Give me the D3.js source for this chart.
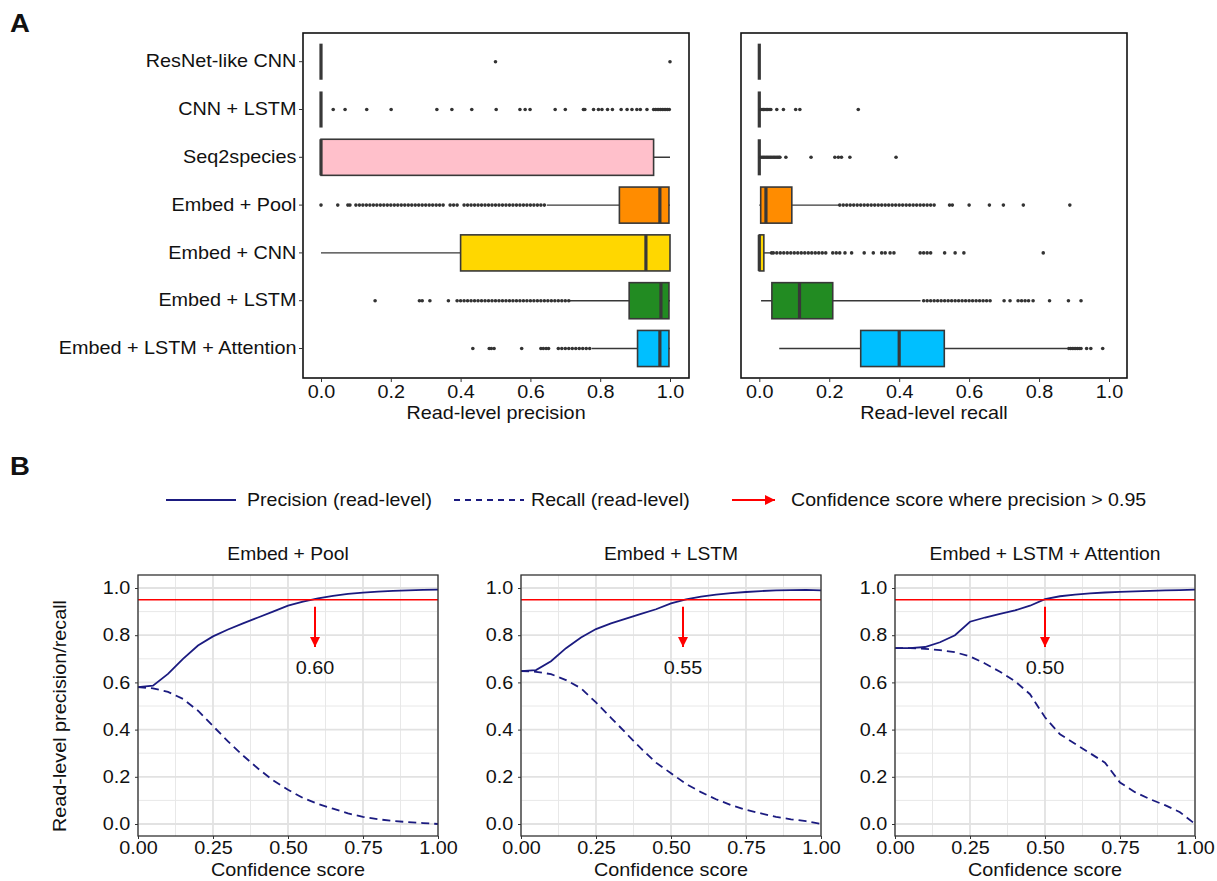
<!DOCTYPE html>
<html><head><meta charset="utf-8">
<script src="https://cdn.jsdelivr.net/npm/d3@7"></script>
<style>
body{margin:0;background:#fff}
text{font-family:"Liberation Sans",Arial,sans-serif;fill:#111}
</style>
</head><body><svg id="c" width="1217" height="881"></svg>
<script>
// ---------------- DATA ----------------
const categories = ["ResNet-like CNN","CNN + LSTM","Seq2species","Embed + Pool","Embed + CNN","Embed + LSTM","Embed + LSTM + Attention"];
const boxColors = ["#FFC0CB","#FFC0CB","#FFC0CB","#FF8C00","#FFD700","#228B22","#00BFFF"];
// [lower whisker, Q1, median, Q3, upper whisker]
const precisionBoxes = [
  [0,0,0,0,0],
  [0,0,0,0,0],
  [0,0,0,0.953,1.0],
  [0.647,0.855,0.971,0.997,1.0],
  [0.0,0.40,0.931,1.0,1.0],
  [0.713,0.883,0.974,0.997,1.0],
  [0.776,0.907,0.971,0.997,1.0]
];
const precisionOutliers = [
  [0.5,1.0],
  [0.035,0.069,0.131,0.201,0.332,0.375,0.432,0.502,0.57,0.585,0.599,0.671,0.70,0.752,0.756,0.781,0.795,0.805,0.821,0.835,0.86,0.877,0.891,0.905,0.915,0.934,0.953,0.958,0.963,0.968,0.973,0.978,0.983,0.988,0.993,0.998],
  [],
  [0.0,0.048,0.077,0.083,0.10,0.11,0.12,0.13,0.14,0.15,0.16,0.17,0.18,0.19,0.20,0.21,0.22,0.23,0.24,0.25,0.26,0.27,0.28,0.29,0.30,0.31,0.32,0.33,0.34,0.35,0.37,0.38,0.39,0.41,0.42,0.43,0.44,0.45,0.46,0.47,0.48,0.49,0.50,0.51,0.52,0.53,0.54,0.55,0.56,0.57,0.58,0.59,0.60,0.61,0.62,0.63,0.64],
  [],
  [0.155,0.282,0.29,0.312,0.365,0.39,0.40,0.41,0.42,0.43,0.44,0.45,0.46,0.47,0.48,0.49,0.50,0.51,0.52,0.53,0.54,0.55,0.56,0.57,0.58,0.59,0.60,0.61,0.62,0.63,0.64,0.65,0.66,0.67,0.68,0.69,0.70,0.71],
  [0.435,0.482,0.488,0.496,0.575,0.63,0.637,0.645,0.652,0.68,0.69,0.70,0.71,0.72,0.73,0.74,0.75,0.76,0.77]
];
const recallBoxes = [
  [0,0,0,0,0],
  [0,0,0,0,0],
  [0,0,0,0,0],
  [0.0,0.004,0.019,0.093,0.23],
  [0.0,0.0,0.0,0.013,0.031],
  [0.005,0.036,0.115,0.21,0.461],
  [0.057,0.29,0.40,0.529,0.881]
];
const recallOutliers = [
  [],
  [0.004,0.008,0.012,0.016,0.02,0.024,0.028,0.033,0.05,0.069,0.104,0.116,0.283],
  [0.004,0.008,0.012,0.016,0.02,0.024,0.028,0.032,0.036,0.04,0.044,0.048,0.052,0.056,0.059,0.076,0.148,0.216,0.226,0.235,0.259,0.391],
  [0.23,0.24,0.25,0.26,0.27,0.28,0.29,0.30,0.31,0.32,0.33,0.34,0.35,0.36,0.37,0.38,0.39,0.40,0.41,0.42,0.43,0.44,0.45,0.46,0.47,0.48,0.49,0.50,0.544,0.552,0.60,0.658,0.698,0.755,0.888],
  [0.035,0.04,0.05,0.06,0.07,0.08,0.09,0.10,0.11,0.12,0.13,0.14,0.15,0.16,0.17,0.18,0.19,0.21,0.22,0.23,0.245,0.264,0.30,0.326,0.35,0.36,0.374,0.385,0.46,0.47,0.48,0.49,0.53,0.56,0.585,0.812],
  [0.47,0.48,0.49,0.50,0.51,0.52,0.53,0.54,0.55,0.56,0.57,0.58,0.59,0.60,0.61,0.62,0.63,0.64,0.65,0.66,0.70,0.717,0.74,0.75,0.76,0.77,0.783,0.83,0.884,0.92],
  [0.885,0.89,0.895,0.90,0.905,0.91,0.915,0.92,0.936,0.948,0.982]
];
const boxTicks = [0.0,0.2,0.4,0.6,0.8,1.0];

const confidence = [0,0.05,0.10,0.15,0.20,0.25,0.30,0.35,0.40,0.45,0.50,0.55,0.60,0.65,0.70,0.75,0.80,0.85,0.90,0.95,1.0];
const poolPrecision = [0.58,0.586,0.636,0.70,0.756,0.795,0.824,0.85,0.875,0.90,0.925,0.942,0.956,0.967,0.975,0.98,0.985,0.988,0.99,0.992,0.993];
const poolRecall    = [0.58,0.575,0.56,0.53,0.48,0.415,0.35,0.29,0.235,0.185,0.145,0.11,0.085,0.065,0.045,0.03,0.02,0.013,0.008,0.004,0.0];
const lstmPrecision = [0.648,0.652,0.69,0.745,0.79,0.826,0.85,0.87,0.89,0.91,0.935,0.952,0.963,0.972,0.978,0.983,0.987,0.99,0.991,0.992,0.99];
const lstmRecall    = [0.648,0.645,0.635,0.61,0.575,0.515,0.45,0.385,0.32,0.26,0.215,0.17,0.135,0.105,0.08,0.06,0.045,0.03,0.02,0.012,0.0];
const attnPrecision = [0.745,0.745,0.75,0.77,0.80,0.857,0.875,0.89,0.905,0.925,0.953,0.965,0.972,0.977,0.981,0.984,0.986,0.988,0.99,0.991,0.993];
const attnRecall    = [0.745,0.745,0.742,0.737,0.728,0.71,0.68,0.645,0.605,0.55,0.452,0.38,0.34,0.30,0.26,0.176,0.135,0.105,0.08,0.05,0.0];
const panelTitles = ["Embed + Pool","Embed + LSTM","Embed + LSTM + Attention"];
const thresholds = [0.59,0.54,0.50];
const thresholdLabels = ["0.60","0.55","0.50"];
const precisionTarget = 0.95;
const curveXTicks = [0,0.25,0.5,0.75,1.0];
const curveYTicks = [0,0.2,0.4,0.6,0.8,1.0];

// ---------------- DRAW ----------------
const svg = d3.select("#c");
svg.append("rect").attr("width",1217).attr("height",881).attr("fill","#fff");
const SX = 1.1;
function txt(g,x,y,s,size,anchor,extra){
  const t = g.append("text").attr("transform",`translate(${x},${y}) scale(${SX},1)`)
    .attr("font-size",size).attr("text-anchor",anchor||"start").text(s);
  if(extra) extra(t);
  return t;
}
const defs = svg.append("defs");
defs.append("marker").attr("id","ah").attr("viewBox","0 0 10 10").attr("refX",10).attr("refY",5)
  .attr("markerWidth",10).attr("markerHeight",10).attr("markerUnits","userSpaceOnUse").attr("orient","auto")
  .append("path").attr("d","M0,0 L10,5 L0,10 z").attr("fill","#ff0000");

txt(svg,10,32,"A",25,"start",t=>t.attr("font-weight","bold"));
txt(svg,10,475,"B",25,"start",t=>t.attr("font-weight","bold"));

function boxPanel(x0,x1,zeroPx,onePx,boxes,outliers,axisTitle,showLabels){
  const y0=33,y1=378;
  const unit=onePx-zeroPx;
  const x=d3.scaleLinear().domain([(x0-zeroPx)/unit,(x1-zeroPx)/unit]).range([x0,x1]);
  const y=d3.scaleBand().domain(categories).range([37.8,372.4]).paddingInner(0.245).paddingOuter(0.1225);
  const g=svg.append("g");
  const stroke="#383838";
  categories.forEach((c,i)=>{
    const b=boxes[i], cy=y(c)+y.bandwidth()/2, top=y(c), h=y.bandwidth();
    g.append("line").attr("x1",x(b[0])).attr("x2",x(b[4])).attr("y1",cy).attr("y2",cy).attr("stroke",stroke).attr("stroke-width",1.4);
    g.append("rect").attr("x",x(b[1])).attr("width",x(b[3])-x(b[1])).attr("y",top).attr("height",h)
      .attr("fill",boxColors[i]).attr("stroke",stroke).attr("stroke-width",1.6);
    g.append("line").attr("x1",x(b[2])).attr("x2",x(b[2])).attr("y1",top).attr("y2",top+h).attr("stroke",stroke).attr("stroke-width",3.2);
    g.selectAll(null).data(outliers[i]).enter().append("circle")
      .attr("cx",d=>x(d)).attr("cy",cy).attr("r",1.8).attr("fill","#333");
  });
  g.append("rect").attr("x",x0).attr("y",y0).attr("width",x1-x0).attr("height",y1-y0).attr("fill","none").attr("stroke","#111").attr("stroke-width",1.6);
  const ax=g.append("g").attr("transform",`translate(0,${y1})`).call(d3.axisBottom(x).tickValues(boxTicks).tickFormat(d3.format(".1f")).tickSize(4).tickSizeOuter(0));
  ax.select(".domain").remove();
  ax.selectAll("line").attr("stroke","#333");
  ax.selectAll("text").attr("font-size",18).attr("fill","#111").attr("y",7).attr("transform",`scale(${SX},1)`);
  if(showLabels){
    const ay=g.append("g").attr("transform",`translate(${x0},0)`).call(d3.axisLeft(y).tickSize(4).tickSizeOuter(0));
    ay.select(".domain").remove();
    ay.selectAll("line").attr("stroke","#333");
    ay.selectAll("text").attr("font-size",18).attr("fill","#111").attr("x",-6).attr("transform",`scale(${SX},1)`);
  }
  txt(g,(x0+x1)/2,419,axisTitle,18,"middle");
}
boxPanel(303,689,321,670,precisionBoxes,precisionOutliers,"Read-level precision",true);
boxPanel(741,1127,759.3,1109,recallBoxes,recallOutliers,"Read-level recall",false);

// legend
const navy="#1b1b80";
const lg=svg.append("g");
lg.append("line").attr("x1",166).attr("x2",236).attr("y1",500).attr("y2",500).attr("stroke",navy).attr("stroke-width",2);
txt(lg,247,506,"Precision (read-level)",17.8);
lg.append("line").attr("x1",454).attr("x2",524).attr("y1",500).attr("y2",500).attr("stroke",navy).attr("stroke-width",2).attr("stroke-dasharray","6,5");
txt(lg,531,506,"Recall (read-level)",17.8);
lg.append("line").attr("x1",732).attr("x2",775).attr("y1",500).attr("y2",500).attr("stroke","#ff0000").attr("stroke-width",2).attr("marker-end","url(#ah)");
txt(lg,791,506,"Confidence score where precision > 0.95",17.8);

function curvePanel(left,title,prec,rec,thr,thrLabel,showYTitle){
  const top=575, bottom=836, right=left+300;
  const x=d3.scaleLinear().domain([0,1]).range([left,right]);
  const y=d3.scaleLinear().domain([(824-bottom)/236,(824-top)/236]).range([bottom,top]);
  const g=svg.append("g");
  [0.125,0.375,0.625,0.875].forEach(v=>g.append("line").attr("x1",x(v)).attr("x2",x(v)).attr("y1",top).attr("y2",bottom).attr("stroke","#e8e8e8").attr("stroke-width",1));
  [0.1,0.3,0.5,0.7,0.9].forEach(v=>g.append("line").attr("y1",y(v)).attr("y2",y(v)).attr("x1",left).attr("x2",right).attr("stroke","#e8e8e8").attr("stroke-width",1));
  curveXTicks.forEach(v=>g.append("line").attr("x1",x(v)).attr("x2",x(v)).attr("y1",top).attr("y2",bottom).attr("stroke","#e2e2e2").attr("stroke-width",1.8));
  curveYTicks.forEach(v=>g.append("line").attr("y1",y(v)).attr("y2",y(v)).attr("x1",left).attr("x2",right).attr("stroke","#e2e2e2").attr("stroke-width",1.8));
  const line=d3.line().x((d,i)=>x(confidence[i])).y(d=>y(d));
  g.append("path").attr("d",line(rec)).attr("fill","none").attr("stroke",navy).attr("stroke-width",1.8).attr("stroke-dasharray","8,5");
  g.append("path").attr("d",line(prec)).attr("fill","none").attr("stroke",navy).attr("stroke-width",1.8);
  g.append("line").attr("x1",left).attr("x2",right).attr("y1",y(precisionTarget)).attr("y2",y(precisionTarget)).attr("stroke","#ff0000").attr("stroke-width",1.5);
  g.append("line").attr("x1",x(thr)).attr("x2",x(thr)).attr("y1",y(precisionTarget)+7).attr("y2",y(0.75)).attr("stroke","#ff0000").attr("stroke-width",2).attr("marker-end","url(#ah)");
  txt(g,x(thr),y(0.75)+27,thrLabel,18,"middle");
  g.append("rect").attr("x",left).attr("y",top).attr("width",300).attr("height",bottom-top).attr("fill","none").attr("stroke","#333").attr("stroke-width",1.3);
  const ax=g.append("g").attr("transform",`translate(0,${bottom})`).call(d3.axisBottom(x).tickValues(curveXTicks).tickFormat(d3.format(".2f")).tickSize(3).tickSizeOuter(0));
  ax.select(".domain").remove();
  ax.selectAll("line").attr("stroke","#333");
  ax.selectAll("text").attr("font-size",18).attr("fill","#111").attr("y",5).attr("transform",`scale(${SX},1)`);
  const ay=g.append("g").attr("transform",`translate(${left},0)`).call(d3.axisLeft(y).tickValues(curveYTicks).tickFormat(d3.format(".1f")).tickSize(3).tickSizeOuter(0));
  ay.select(".domain").remove();
  ay.selectAll("line").attr("stroke","#333");
  ay.selectAll("text").attr("font-size",18).attr("fill","#111").attr("x",-7).attr("transform",`scale(${SX},1)`);
  txt(g,(left+right)/2,876,"Confidence score",18,"middle");
  txt(g,(left+right)/2,560,title,17.5,"middle");
  if(showYTitle){
    g.append("text").attr("transform",`translate(66,716) rotate(-90) scale(${SX},1)`).attr("font-size",18).attr("text-anchor","middle").text("Read-level precision/recall");
  }
}
curvePanel(138,panelTitles[0],poolPrecision,poolRecall,thresholds[0],thresholdLabels[0],true);
curvePanel(521,panelTitles[1],lstmPrecision,lstmRecall,thresholds[1],thresholdLabels[1],false);
curvePanel(895,panelTitles[2],attnPrecision,attnRecall,thresholds[2],thresholdLabels[2],false);
</script>
</body></html>
